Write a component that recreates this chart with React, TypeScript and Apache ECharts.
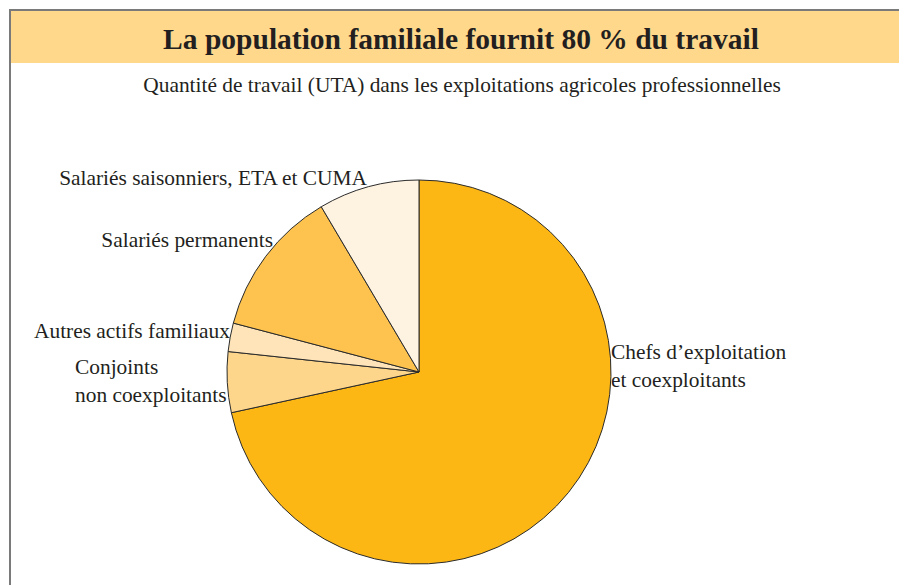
import React, { useEffect, useRef } from "react";
import * as echarts from "echarts";

const categories = [
  "Chefs d\u2019exploitation\net coexploitants",
  "Conjoints\nnon coexploitants",
  "Autres actifs familiaux",
  "Salariés permanents",
  "Salariés saisonniers, ETA et CUMA",
];
const values = [71.6, 5.1, 2.4, 12.4, 8.5];
const colors = ["#FDB714", "#FDD68C", "#FEE4B8", "#FDC34E", "#FEF2E0"];
const titleText = "La population familiale fournit 80 % du travail";
const subtitleText = "Quantité de travail (UTA) dans les exploitations agricoles professionnelles";

// label anchor placements (style only)
const labelPlacement = [
  { x: 611, y: 366, align: "left" },
  { x: 75, y: 381, align: "left" },
  { x: 230, y: 331, align: "right" },
  { x: 273, y: 240, align: "right" },
  { x: 367, y: 178, align: "right" },
];

export default function App() {
  const ref = useRef<HTMLDivElement>(null);
  useEffect(() => {
    if (!ref.current) return;
    const chart = echarts.init(ref.current, null, { renderer: "svg" });
    const font = "Liberation Serif";
    chart.setOption({
      animation: false,
      backgroundColor: "#ffffff",
      graphic: [
        { type: "rect", shape: { x: 10, y: 10, width: 889, height: 53 }, style: { fill: "#FFD88C" }, z: 0 },
        { type: "line", shape: { x1: 9, y1: 10, x2: 899, y2: 10 }, style: { stroke: "#7a7a7a", lineWidth: 2 }, z: 1 },
        { type: "line", shape: { x1: 10, y1: 9, x2: 10, y2: 585 }, style: { stroke: "#7a7a7a", lineWidth: 2 }, z: 1 },
        {
          type: "text",
          x: 461,
          y: 39,
          style: {
            text: titleText,
            fontFamily: font,
            fontWeight: "bold",
            fontSize: 29.5,
            fill: "#231f20",
            align: "center",
            verticalAlign: "middle",
          },
          z: 2,
        },
        {
          type: "text",
          x: 462,
          y: 85,
          style: {
            text: subtitleText,
            fontFamily: font,
            fontSize: 21.4,
            fill: "#231f20",
            align: "center",
            verticalAlign: "middle",
          },
          z: 2,
        },
      ],
      series: [
        {
          type: "pie",
          center: [419, 372],
          radius: [0, 192],
          startAngle: 90,
          clockwise: true,
          avoidLabelOverlap: false,
          data: categories.map((name, i) => ({
            name,
            value: values[i],
            itemStyle: { color: colors[i] },
          })),
          itemStyle: { borderColor: "#2b2b2b", borderWidth: 1 },
          label: {
            show: true,
            position: "outside",
            formatter: "{b}",
            fontFamily: font,
            fontSize: 21.4,
            lineHeight: 27.5,
            color: "#231f20",
          },
          labelLine: { show: false },
          labelLayout: (params: any) => {
            const p = labelPlacement[params.dataIndex];
            return { x: p.x, y: p.y, align: p.align, verticalAlign: "middle" };
          },
          emphasis: { disabled: true },
        },
      ],
    });
    return () => chart.dispose();
  }, []);
  return (
    <div
      ref={ref}
      style={{ position: "fixed", left: 0, top: 0, width: 899, height: 585 }}
    />
  );
}
